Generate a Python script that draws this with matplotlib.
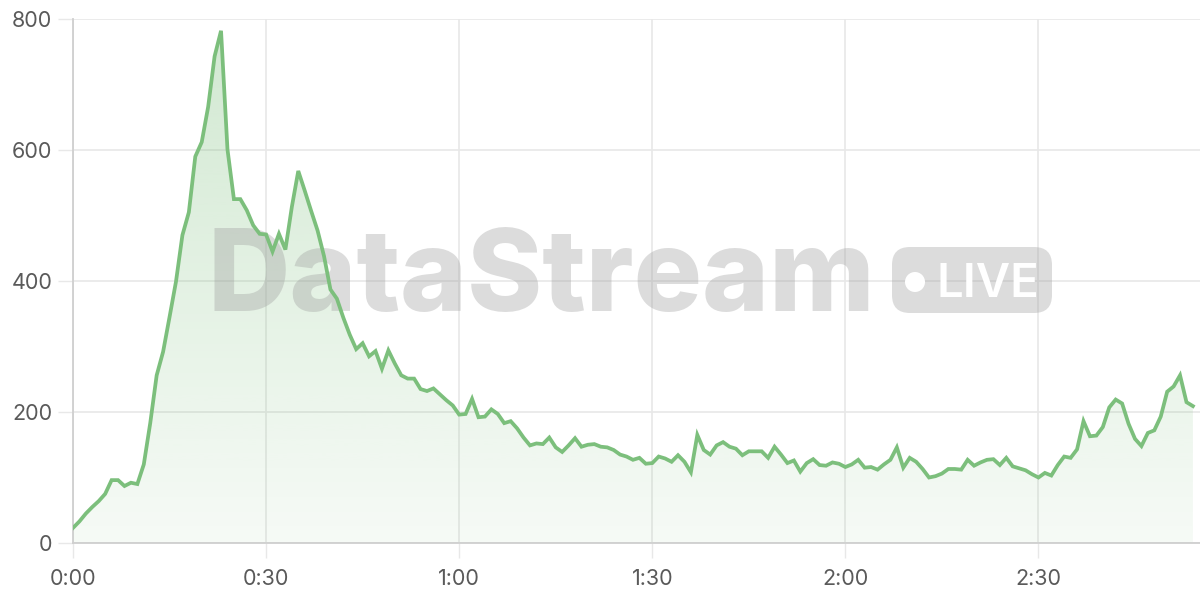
import numpy as np
import matplotlib
matplotlib.use("Agg")
import matplotlib.pyplot as plt
from matplotlib.patches import FancyBboxPatch, Circle, Polygon
from matplotlib.transforms import Affine2D

# ---- data ----
values = [
    23, 33, 45, 55, 64, 75, 96, 96, 87, 92, 90, 120, 183, 256, 292, 345, 399, 470,
    505, 590, 612, 666, 743, 782, 601, 525, 525, 508, 485, 472, 471, 445, 472, 448,
    513, 568,
    538, 507, 477, 438, 387, 373, 344, 318, 296, 305, 285, 293, 266, 294, 274, 256,
    251, 251, 235, 232, 236, 227, 218, 210, 196, 197, 220, 192, 193, 204, 197,
    183, 186, 175, 161, 149, 152, 151, 161, 146, 139, 149, 160, 147, 150, 151, 147,
    146, 142, 135, 132, 127, 130, 121, 122, 132, 129, 124, 134, 124, 108,
    165, 142, 135, 149, 154, 147, 144, 134, 140, 140, 140, 130, 147, 135, 122, 126,
    109, 122, 128, 119, 118, 123, 121, 116, 120, 127, 115, 116, 112, 120, 127, 146,
    115, 130, 124, 113, 100, 102, 106, 113, 113, 112, 127, 118, 123, 127, 128, 119,
    130, 117, 114, 111, 105, 100, 107, 103, 119, 132, 130, 143,
    186, 163, 164, 177, 207, 219, 213, 182, 159, 148, 168, 172, 193, 231, 239, 256,
    215, 209,
]
minutes = list(range(len(values)))
x_ticks = [0, 30, 60, 90, 120, 150]
x_tick_labels = ["0:00", "0:30", "1:00", "1:30", "2:00", "2:30"]
y_ticks = [0, 200, 400, 600, 800]
y_tick_labels = ["0", "200", "400", "600", "800"]

LINE = "#7cbf7c"
GRID = "#e8e8e8"
AXIS = "#cfcfcf"
TEXT = "#5a5a5a"

plt.rcParams["font.family"] = ["Inter", "DejaVu Sans"]

fig = plt.figure(figsize=(12, 6), dpi=100)
ax = fig.add_axes([73 / 1200, 57 / 600, 1 - 73 / 1200, 524 / 600])
ax.set_xlim(0, 175.1)
ax.set_ylim(0, 800)

# gradient fill under the line
x = np.array(minutes, dtype=float)
y = np.array(values, dtype=float)
verts = np.column_stack([np.r_[x[0], x, x[-1]], np.r_[0, y, 0]])
poly = Polygon(verts, closed=True, facecolor="none", edgecolor="none")
ax.add_patch(poly)
grad = np.linspace(0, 1, 256).reshape(-1, 1)
cols = np.zeros((256, 1, 4))
cols[..., 0] = 124 / 255
cols[..., 1] = 191 / 255
cols[..., 2] = 124 / 255
cols[..., 3] = (0.07 + 0.28 * grad)
im = ax.imshow(cols, extent=[0, x[-1], 0, 800], origin="lower", aspect="auto", zorder=1)
im.set_clip_path(poly)

ax.plot(x, y, color=LINE, lw=2.7, zorder=5, solid_joinstyle="miter")

# grid and axes
ax.set_xticks(x_ticks)
ax.set_xticklabels(x_tick_labels)
ax.set_yticks(y_ticks)
ax.set_yticklabels(y_tick_labels)
ax.grid(True, color=GRID, lw=1.2, zorder=0)
ax.set_axisbelow(True)
for s in ["top", "right"]:
    ax.spines[s].set_visible(False)
for s in ["left", "bottom"]:
    ax.spines[s].set_color(AXIS)
    ax.spines[s].set_linewidth(1.3)
ax.tick_params(axis="y", length=11, width=1.0, color=GRID, pad=4, labelsize=15.5, labelcolor=TEXT)
ax.tick_params(axis="x", length=11, width=1.0, color=GRID, pad=8, labelsize=15.5, labelcolor=TEXT)

# watermark (pixel coordinates, y from top)
px = Affine2D().scale(1 / 100) + fig.dpi_scale_trans
WM = (0.62, 0.62, 0.62, 0.36)
ax.text(207, 600 - 311, "DataStream", transform=px, fontsize=82, fontweight=800,
        family=["Inter", "DejaVu Sans"], color=WM, ha="left", va="baseline",
        zorder=3, clip_on=False)
badge = FancyBboxPatch((892 + 18, 600 - 313 + 18), 160 - 36, 66 - 36,
                       boxstyle="round,pad=18", transform=px, facecolor=WM,
                       edgecolor="none", zorder=3, clip_on=False)
ax.add_patch(badge)
ax.add_patch(Circle((915, 600 - 282), 10, transform=px, facecolor="white",
                    edgecolor="none", zorder=4, clip_on=False))
ax.text(937, 600 - 297, "LIVE", transform=px, fontsize=34, fontweight="semibold",
        family=["Inter", "DejaVu Sans"], color="white", ha="left", va="baseline",
        zorder=4, clip_on=False)

fig.savefig("out.png", dpi=100)
